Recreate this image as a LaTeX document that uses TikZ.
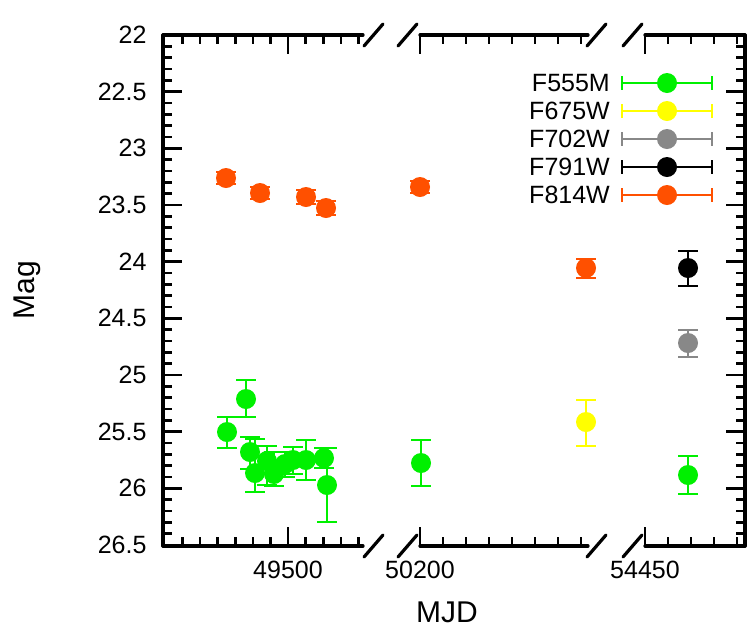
\documentclass[tikz,border=0pt]{standalone}
\usepackage{fontspec}
\setmainfont{Liberation Sans}
\begin{document}
\begin{tikzpicture}[x=1pt,y=-1pt,
  axis/.style={line width=3.2pt,line cap=round},
  tk/.style={line width=2.6pt},
  eb/.style={line width=1.8pt},
  lbl/.style={font=\fontsize{25}{29}\selectfont},
  big/.style={font=\fontsize{30}{34}\selectfont}]
\useasboundingbox (0,0) rectangle (747,641);
\definecolor{cG}{RGB}{0,240,0}
\definecolor{cY}{RGB}{255,255,0}
\definecolor{cGr}{RGB}{136,136,136}
\definecolor{cR}{RGB}{255,80,0}
% frame
\draw[axis] (163,35) -- (163,546);
\draw[axis] (745,35) -- (745,546);
\foreach \a/\b in {163/363,420/588,645/745}{
  \draw[axis] (\a,546) -- (\b,546);
  \draw[axis] (\a,35) -- (\b,35);}
\foreach \s in {364,398,587,623}{
  \draw[axis] (\s,557) -- (\s+19,535);
  \draw[axis] (\s,46) -- (\s+19,24);}
% y ticks
\foreach \i in {1,...,44}{
  \pgfmathsetmacro{\yy}{35+\i*11.333}
  \draw[tk] (163,\yy) -- (172,\yy);
  \draw[tk] (745,\yy) -- (736,\yy);}
\foreach \m [count=\i from 0] in {22,22.5,23,23.5,24,24.5,25,25.5,26,26.5}{
  \pgfmathsetmacro{\yy}{35+\i*56.667}
  \draw[tk] (163,\yy) -- (182,\yy);
  \draw[tk] (745,\yy) -- (726,\yy);
  \node[lbl,anchor=east] (yl\i) at (150,\yy) {\m};}
% x ticks
\foreach \x in {182.4,200,217.6,235.2,252.8,270.4,305.6,323.2,340.8,358.4,443,466,489,512,535,558,581,668,691,714,737}{
  \draw[tk] (\x,546) -- (\x,537);
  \draw[tk] (\x,35) -- (\x,44);}
\foreach \x/\t in {288/49500,420/50200,645/54450}{
  \draw[tk] (\x,546) -- (\x,527);
  \draw[tk] (\x,35) -- (\x,54);
  \node[lbl] (xl\t) at (\x,570) {\t};}
\node[big] (xlab) at (447,612) {MJD};
\node[big,rotate=90] (ylab) at (27,290) {Mag};
% data: x/y/ylow/yhigh/color
\foreach \x/\y/\lo/\hi/\c in {
  226/178/172/184/cR, 260/193/187/199/cR, 306/197/190/204/cR, 326/208/201/215/cR, 420/187/181/193/cR, 586/268/259/278/cR,
  227/432/417/448/cG, 246/399/380/417/cG, 250/452/437/469/cG, 255/473/439/492/cG, 267/461/446/485/cG,
  274/474/452/486/cG, 285/464/452/477/cG, 293/460/447/474/cG, 306/460/440/480/cG, 324/458/448/468/cG,
  327/485/448/522/cG, 421/463/440/486/cG, 688/475/456/494/cG,
  586/422/400/446/cY, 688/343/330/357/cGr, 688/268/251/286/black}{
  \draw[eb,\c] (\x,\lo) -- (\x,\hi) (\x-10,\lo) -- (\x+10,\lo) (\x-10,\hi) -- (\x+10,\hi);
  \fill[\c] (\x,\y) circle (10);}
% legend
\foreach \t/\c [count=\i from 0] in {F555M/cG,F675W/cY,F702W/cGr,F791W/black,F814W/cR}{
  \pgfmathsetmacro{\yy}{83+\i*28}
  \node[lbl,anchor=east,inner sep=0pt] (lg\i) at (610,\yy) {\t};
  \draw[eb,\c] (622,\yy) -- (712,\yy) (622,\yy-7) -- (622,\yy+7) (712,\yy-7) -- (712,\yy+7);
  \fill[\c] (667,\yy) circle (10);}
\end{tikzpicture}
\end{document}
